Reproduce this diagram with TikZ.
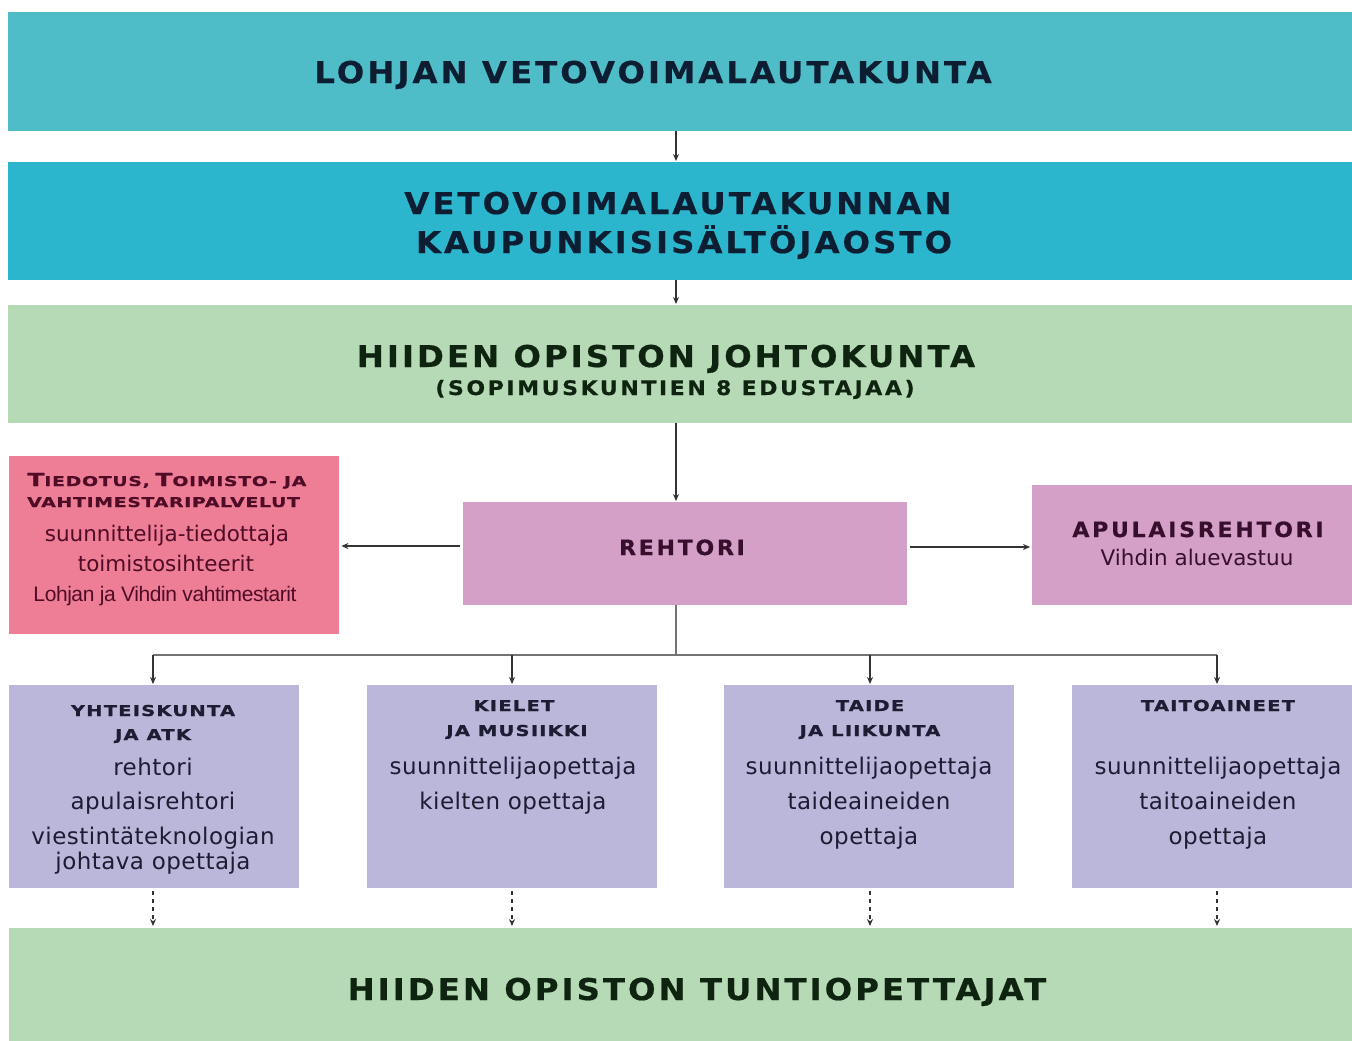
\documentclass[tikz,border=0pt]{standalone}
\usepackage{fontspec}
\setmainfont{DejaVu Sans}
\newfontfamily\narrowfont{Liberation Sans}
\usetikzlibrary{arrows.meta}
\definecolor{cTop}{RGB}{79,189,200}
\definecolor{cSec}{RGB}{44,182,205}
\definecolor{cGreen}{RGB}{182,217,182}
\definecolor{cPink}{RGB}{212,160,200}
\definecolor{cRed}{RGB}{238,125,150}
\definecolor{cLav}{RGB}{187,183,218}
\definecolor{tNavy}{RGB}{14,30,50}
\definecolor{tGreen}{RGB}{15,36,16}
\definecolor{tPlum}{RGB}{55,15,45}
\definecolor{tMaroon}{RGB}{80,12,38}
\definecolor{tLav}{RGB}{28,28,50}
\newcommand{\titlef}{\bfseries\fontsize{30}{32}\selectfont\addfontfeature{FakeStretch=1.08,LetterSpace=10,FakeBold=0.6}}
\newcommand{\subtitlef}{\bfseries\fontsize{20}{22}\selectfont\addfontfeature{FakeStretch=1.1,LetterSpace=13,FakeBold=0.5}}
\newcommand{\midf}{\bfseries\fontsize{21}{23}\selectfont\addfontfeature{FakeStretch=1.05,LetterSpace=13,FakeBold=0.5}}
\newcommand{\headf}{\bfseries\fontsize{15}{17}\selectfont\addfontfeature{FakeStretch=1.3,LetterSpace=8,FakeBold=0.8}}
\newcommand{\bigc}{\fontsize{18}{20}\selectfont}
\newcommand{\smallc}{\fontsize{13.5}{15}\selectfont}
\newcommand{\redheadf}{\bfseries\addfontfeature{FakeStretch=1.4,LetterSpace=5,FakeBold=0.8}}
\newcommand{\bodyf}{\fontsize{23}{25}\selectfont\addfontfeature{LetterSpace=2}}
\newcommand{\redbodyf}{\fontsize{21.5}{23}\selectfont}
\begin{document}
\begin{tikzpicture}[x=1pt,y=-1pt,
  box/.style={draw=none,inner sep=0pt,anchor=north west},
  txt/.style={inner sep=0pt,anchor=base},
  arr/.style={-{Stealth[length=7pt,width=6pt]},line width=1.5pt,draw=black!80},
  darr/.style={-{Stealth[length=7pt,width=6pt]},line width=1.5pt,draw=black!80,dash pattern=on 4pt off 4pt},
  bus/.style={line width=2pt,draw=black!55}]
\useasboundingbox (0,0) rectangle (1352,1041);
\fill[white] (0,0) rectangle (1352,1041);
% boxes
\node[box,fill=cTop,minimum width=1344pt,minimum height=119pt] (lohja) at (8,12) {};
\node[box,fill=cSec,minimum width=1344pt,minimum height=118pt] (jaosto) at (8,162) {};
\node[box,fill=cGreen,minimum width=1344pt,minimum height=118pt] (johto) at (8,305) {};
\node[box,fill=cPink,minimum width=444pt,minimum height=103pt] (rehtori) at (463,502) {};
\node[box,fill=cRed,minimum width=330pt,minimum height=178pt] (tiedotus) at (9,456) {};
\node[box,fill=cPink,minimum width=320pt,minimum height=120pt] (apu) at (1032,485) {};
\node[box,fill=cLav,minimum width=290pt,minimum height=203pt] (yht) at (9,685) {};
\node[box,fill=cLav,minimum width=290pt,minimum height=203pt] (kiel) at (367,685) {};
\node[box,fill=cLav,minimum width=290pt,minimum height=203pt] (taide) at (724,685) {};
\node[box,fill=cLav,minimum width=280pt,minimum height=203pt] (taito) at (1072,685) {};
\node[box,fill=cGreen,minimum width=1343pt,minimum height=113pt] (tunti) at (9,928) {};
% texts
\node[txt,text=tNavy,font=\titlef] (t1) at (653,83) {LOHJAN VETOVOIMALAUTAKUNTA};
\node[txt,text=tNavy,font=\titlef] (t2a) at (678,214) {VETOVOIMALAUTAKUNNAN};
\node[txt,text=tNavy,font=\titlef] (t2b) at (684,253) {KAUPUNKISISÄLTÖJAOSTO};
\node[txt,text=tGreen,font=\titlef] (t3a) at (666,367) {HIIDEN OPISTON JOHTOKUNTA};
\node[txt,text=tGreen,font=\subtitlef] (t3b) at (675,395) {(SOPIMUSKUNTIEN 8 EDUSTAJAA)};
\node[txt,text=tPlum,font=\midf] (tr) at (682,555) {REHTORI};
\node[txt,text=tPlum,font=\midf] (ta1) at (1198,537) {APULAISREHTORI};
\node[txt,text=tPlum,font=\redbodyf] (ta2) at (1197,565) {Vihdin aluevastuu};
\node[inner sep=0pt,anchor=base west,text=tMaroon,font=\redheadf] (th1) at (27,486) {{\bigc T}{\smallc IEDOTUS,} {\bigc T}{\smallc OIMISTO- JA}};
\node[inner sep=0pt,anchor=base west,text=tMaroon,font=\redheadf] (th2) at (27,507) {\smallc VAHTIMESTARIPALVELUT};
\node[txt,text=tMaroon,font=\redbodyf] (tb1) at (167,541) {suunnittelija-tiedottaja};
\node[txt,text=tMaroon,font=\redbodyf] (tb2) at (166,571) {toimistosihteerit};
\node[txt,text=tMaroon,font=\narrowfont\fontsize{21}{23}\selectfont\addfontfeature{LetterSpace=-2}] (tb3) at (165,601) {Lohjan ja Vihdin vahtimestarit};
% lavender texts
\node[txt,text=tLav,font=\headf] (y1) at (153,716) {YHTEISKUNTA};
\node[txt,text=tLav,font=\headf] (y2) at (153,740) {JA ATK};
\node[txt,text=tLav,font=\bodyf] (y3) at (153,775) {rehtori};
\node[txt,text=tLav,font=\bodyf] (y4) at (153,809) {apulaisrehtori};
\node[txt,text=tLav,font=\bodyf] (y5) at (153,844) {viestintäteknologian};
\node[txt,text=tLav,font=\bodyf] (y6) at (153,869) {johtava opettaja};
\node[txt,text=tLav,font=\headf] (k1) at (514,711) {KIELET};
\node[txt,text=tLav,font=\headf] (k2) at (517,736) {JA MUSIIKKI};
\node[txt,text=tLav,font=\bodyf] (k3) at (513,774) {suunnittelijaopettaja};
\node[txt,text=tLav,font=\bodyf] (k4) at (513,809) {kielten opettaja};
\node[txt,text=tLav,font=\headf] (d1) at (870,711) {TAIDE};
\node[txt,text=tLav,font=\headf] (d2) at (870,736) {JA LIIKUNTA};
\node[txt,text=tLav,font=\bodyf] (d3) at (869,774) {suunnittelijaopettaja};
\node[txt,text=tLav,font=\bodyf] (d4) at (869,809) {taideaineiden};
\node[txt,text=tLav,font=\bodyf] (d5) at (869,844) {opettaja};
\node[txt,text=tLav,font=\headf] (o1) at (1218,711) {TAITOAINEET};
\node[txt,text=tLav,font=\bodyf] (o3) at (1218,774) {suunnittelijaopettaja};
\node[txt,text=tLav,font=\bodyf] (o4) at (1218,809) {taitoaineiden};
\node[txt,text=tLav,font=\bodyf] (o5) at (1218,844) {opettaja};
\node[txt,text=tGreen,font=\titlef] (tt) at (697,1000) {HIIDEN OPISTON TUNTIOPETTAJAT};
% connectors
\coordinate (cx) at (676,0);
\coordinate (ly) at (0,546);
\coordinate (ry) at (0,547);
\coordinate (busy) at (0,655);
\coordinate (b1) at (153,0);
\coordinate (b2) at (512,0);
\coordinate (b3) at (870,0);
\coordinate (b4) at (1217,0);
\draw[arr,shorten >=1pt] (lohja.south -| cx) -- (jaosto.north -| cx);
\draw[arr,shorten >=1pt] (jaosto.south -| cx) -- (johto.north -| cx);
\draw[arr,shorten >=1pt] (johto.south -| cx) -- (rehtori.north -| cx);
\draw[arr,shorten <=3pt,shorten >=2pt] (rehtori.west |- ly) -- (tiedotus.east |- ly);
\draw[arr,shorten <=3pt,shorten >=2pt] (rehtori.east |- ry) -- (apu.west |- ry);
\draw[bus] (rehtori.south -| cx) -- (cx |- busy);
\draw[bus] (b1 |- busy) -- (b4 |- busy);
\draw[arr,shorten >=1pt] (b1 |- busy) -- (b1 |- yht.north);
\draw[arr,shorten >=1pt] (b2 |- busy) -- (b2 |- kiel.north);
\draw[arr,shorten >=1pt] (b3 |- busy) -- (b3 |- taide.north);
\draw[arr,shorten >=1pt] (b4 |- busy) -- (b4 |- taito.north);
\draw[darr,shorten <=3pt,shorten >=2pt] (b1 |- yht.south) -- (b1 |- tunti.north);
\draw[darr,shorten <=3pt,shorten >=2pt] (b2 |- kiel.south) -- (b2 |- tunti.north);
\draw[darr,shorten <=3pt,shorten >=2pt] (b3 |- taide.south) -- (b3 |- tunti.north);
\draw[darr,shorten <=3pt,shorten >=2pt] (b4 |- taito.south) -- (b4 |- tunti.north);
\end{tikzpicture}
\end{document}
